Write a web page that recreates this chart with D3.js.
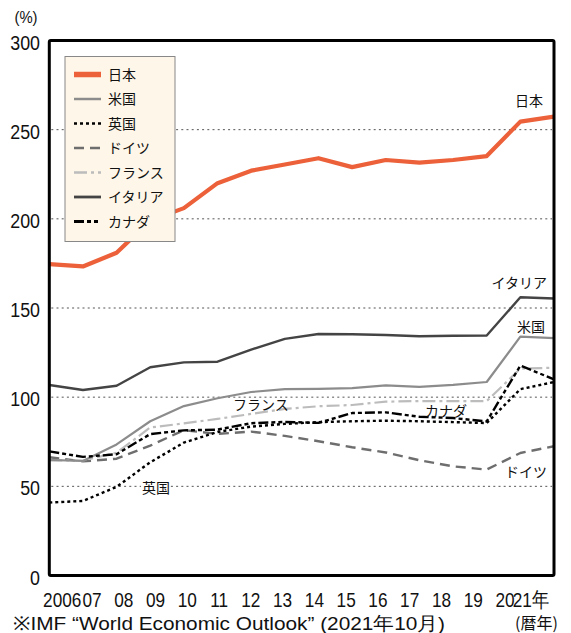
<!DOCTYPE html>
<html><head><meta charset="utf-8">
<script src="https://cdn.jsdelivr.net/npm/d3@7"></script>
<style>
body{margin:0;background:#fff;}
svg{display:block;}
.num{font-family:"Liberation Sans",sans-serif;}
.jp{font-family:"Noto Sans CJK JP",sans-serif;}
</style></head>
<body><svg id="c" width="571" height="633"></svg>
<script>
const years = [2006,2007,2008,2009,2010,2011,2012,2013,2014,2015,2016,2017,2018,2019,2020,2021];
const yearLabels = ["2006","07","08","09","10","11","12","13","14","15","16","17","18","19","20","21年"];
const yTicks = [0,50,100,150,200,250,300];
const japan   = [174.6,173.3,181.0,199.0,206.0,220.0,227.0,230.5,234.0,229.0,233.0,231.5,233.0,235.2,254.5,257.3];
const usa     = [64.8,64.2,73.5,86.5,95.0,99.4,102.9,104.5,104.6,105.1,106.6,105.8,106.9,108.5,133.9,133.1];
const uk      = [40.9,41.8,49.7,63.5,74.5,80.5,83.5,85.0,86.0,86.5,86.8,86.5,86.0,85.5,104.5,108.5];
const germany = [66.3,64.0,65.5,72.8,81.5,79.4,80.7,78.3,75.3,71.9,69.0,64.6,61.2,59.4,68.7,72.5];
const france  = [64.6,64.5,68.8,83.0,85.3,87.8,90.6,93.4,94.9,95.6,97.5,97.8,97.8,97.8,116.0,116.5];
const italy   = [106.8,104.0,106.4,116.8,119.5,119.9,126.7,132.7,135.4,135.3,134.9,134.2,134.4,134.6,156.0,155.3];
const canada  = [69.6,66.5,68.0,79.3,81.4,81.8,85.4,86.1,85.6,91.1,91.5,89.0,88.3,86.4,117.7,110.0];

const seriesNames = ["日本","米国","英国","ドイツ","フランス","イタリア","カナダ"];
const seriesData  = [japan,usa,uk,germany,france,italy,canada];
const seriesStyle = [
  {c:"#ec6139", w:4.2, d:null, lw:5.5},
  {c:"#8c8c8c", w:2.2, d:null, lw:2.5},
  {c:"#000000", w:2.4, d:"3,3", lw:2.6},
  {c:"#6e6e6e", w:2.4, d:"10,6", lw:2.6},
  {c:"#bcbcbc", w:2.2, d:"13,4,3,4", lw:2.6},
  {c:"#444444", w:2.4, d:null, lw:2.8},
  {c:"#000000", w:2.4, d:"10,3,4,3,4,3", lw:2.8}
];
const drawOrder = [3,4,1,2,6,5,0];

const svg = d3.select("#c");
const L=49.3, R=554, T=40.5, B=575.5;
const x = d3.scaleLinear().domain([2006,2021]).range([L,R]);
const y = d3.scaleLinear().domain([0,300]).range([B,T]);
const xl = d3.scaleLinear().domain([2007,2020]).range([92,505]);

// grid
svg.append("g").selectAll("line").data(yTicks.filter(v=>v>0&&v<300)).join("line")
  .attr("x1",L+2).attr("x2",R-2).attr("y1",d=>y(d)).attr("y2",d=>y(d))
  .attr("stroke","#555").attr("stroke-width",1).attr("stroke-dasharray","2,3.2");

// y tick labels (narrowed)
svg.append("g").selectAll("text").data(yTicks).join("text")
  .attr("class","num").attr("transform",d=>`translate(40,${y(d)+9}) scale(0.85,1)`)
  .attr("text-anchor","end").attr("font-size",21).attr("fill","#111").text(d=>d);
svg.append("text").attr("class","num").attr("transform","translate(26,23) scale(0.9,1)").attr("text-anchor","middle")
  .attr("font-size",16.5).attr("fill","#111").text("(%)");

// lines
const line = d3.line().x((d,i)=>x(years[i])).y(d=>y(d));
const lg = svg.append("g");
drawOrder.forEach(k=>{
  const s=seriesStyle[k];
  lg.append("path").datum(seriesData[k]).attr("d",line).attr("fill","none")
    .attr("stroke",s.c).attr("stroke-width",s.w).attr("stroke-dasharray",s.d)
    .attr("stroke-linejoin","round");
});

// frame
svg.append("rect").attr("x",L).attr("y",T).attr("width",R-L).attr("height",B-T)
  .attr("fill","none").attr("stroke","#000").attr("stroke-width",3).attr("rx",1.5);

// x labels (narrowed)
svg.append("g").selectAll("text").data(years).join("text")
  .attr("class","num")
  .attr("transform",(d,i)=>`translate(${xl(d)+(i===0?2:0)+(i===years.length-1?-6:0)},607) scale(0.82,1)`)
  .attr("text-anchor","middle").attr("font-size",21).attr("fill","#111")
  .text((d,i)=>yearLabels[i]);
svg.append("text").attr("class","jp").attr("x",536.5).attr("y",629).attr("text-anchor","middle")
  .attr("font-size",16).attr("fill","#111").text("(暦年)");
svg.append("text").attr("class","num").attr("x",13).attr("y",630)
  .attr("font-size",19).attr("fill","#111").attr("textLength",432).attr("lengthAdjust","spacingAndGlyphs")
  .text("※IMF “World Economic Outlook” (2021年10月)");

// annotations
const ann = [
  {t:"日本", x:543, y:106, a:"end"},
  {t:"イタリア", x:547, y:288, a:"end"},
  {t:"米国", x:545, y:332, a:"end"},
  {t:"カナダ", x:425, y:416, a:"start"},
  {t:"ドイツ", x:547, y:477, a:"end"},
  {t:"フランス", x:233, y:410, a:"start"}
];
ann.forEach(a=>svg.append("text").attr("class","jp").attr("x",a.x).attr("y",a.y)
  .attr("text-anchor",a.a).attr("font-size",14).attr("fill","#111").text(a.t));
svg.append("rect").attr("x",141).attr("y",479).attr("width",27).attr("height",16).attr("fill","#fff");
svg.append("text").attr("class","jp").attr("x",142).attr("y",493).attr("font-size",14).attr("fill","#111").text("英国");

// legend
const leg = svg.append("g");
leg.append("rect").attr("x",65).attr("y",56.5).attr("width",110).attr("height",185)
  .attr("fill","#fef6e8").attr("stroke","#888").attr("stroke-width",1);
const ly = d3.scaleLinear().domain([0,6]).range([74.5,221.5]);
seriesNames.forEach((n,k)=>{
  const s=seriesStyle[k];
  leg.append("line").attr("x1",74).attr("x2",101).attr("y1",ly(k)).attr("y2",ly(k))
    .attr("stroke",s.c).attr("stroke-width",s.lw).attr("stroke-dasharray",s.d);
  leg.append("text").attr("class","jp").attr("x",108).attr("y",ly(k)+5)
    .attr("font-size",14).attr("fill","#111").text(n);
});
</script></body></html>
